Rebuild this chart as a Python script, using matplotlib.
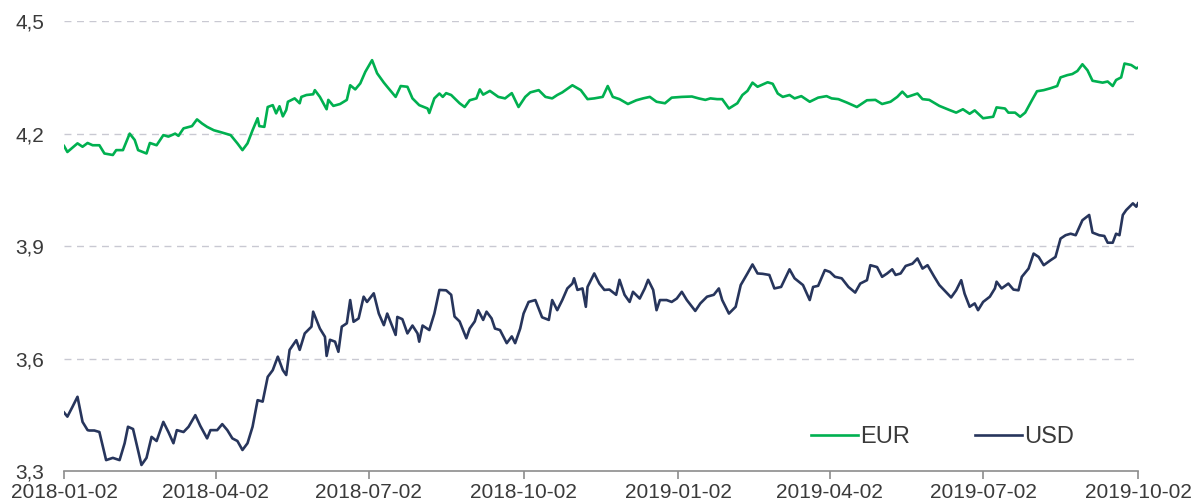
import matplotlib
matplotlib.use('Agg')
import matplotlib.pyplot as plt
import matplotlib.ticker as mticker
import matplotlib.dates as mdates
import numpy as np
import pandas as pd

start = pd.Timestamp('2018-01-02')

# days since 2018-01-02 and rate
eur_days = [0, 2, 8, 11, 14, 17, 21, 24, 29, 31, 35, 39, 42, 44, 49, 51, 55, 59, 62, 66,
            68, 71, 76, 79, 82, 85, 89, 93, 99, 103, 106, 109, 112, 115, 116, 119, 121, 124,
            126, 128, 130, 132, 133, 137, 140, 141, 144, 148, 149, 152, 156, 157, 160, 164,
            168, 170, 173, 176, 179, 183, 186, 190, 192, 197, 200, 204, 207, 211, 216, 217,
            220, 223, 225, 227, 230, 235, 238, 241, 245, 247, 249, 253, 258, 262, 266, 270,
            274, 277, 282, 286, 290, 293, 296, 302, 307, 311, 315, 320, 323, 326, 330, 335,
            340, 344, 348, 352, 357, 361, 367, 373, 377, 381, 384, 388, 391, 395, 400, 403,
            406, 409, 412, 418, 421, 424, 427, 431, 434, 438, 443, 448, 453, 456, 460, 465,
            471, 477, 482, 486, 491, 495, 498, 501, 507, 510, 514, 520, 526, 530, 534, 538,
            541, 546, 552, 554, 559, 561, 565, 568, 571, 575, 578, 582, 586, 590, 592, 596,
            599, 602, 605, 608, 611, 617, 620, 623, 625, 628, 630, 634, 637, 638]
eur = [4.167, 4.151, 4.174, 4.165, 4.175, 4.169, 4.169, 4.147, 4.143, 4.156, 4.156, 4.200,
       4.183, 4.156, 4.147, 4.175, 4.169, 4.196, 4.192, 4.200, 4.194, 4.214, 4.220, 4.238,
       4.227, 4.218, 4.209, 4.204, 4.196, 4.174, 4.156, 4.174, 4.209, 4.241, 4.220, 4.218,
       4.271, 4.276, 4.254, 4.273, 4.246, 4.263, 4.285, 4.294, 4.281, 4.298, 4.303, 4.305,
       4.316, 4.298, 4.265, 4.290, 4.274, 4.279, 4.290, 4.329, 4.318, 4.334, 4.365, 4.396,
       4.361, 4.336, 4.325, 4.298, 4.327, 4.325, 4.294, 4.276, 4.267, 4.255, 4.294, 4.307,
       4.298, 4.308, 4.303, 4.281, 4.271, 4.289, 4.294, 4.318, 4.304, 4.314, 4.298, 4.294,
       4.308, 4.271, 4.298, 4.310, 4.316, 4.298, 4.294, 4.303, 4.310, 4.329, 4.316, 4.292,
       4.294, 4.298, 4.327, 4.298, 4.292, 4.279, 4.289, 4.294, 4.298, 4.285, 4.281, 4.296,
       4.298, 4.299, 4.294, 4.290, 4.294, 4.292, 4.292, 4.267, 4.281, 4.303, 4.314, 4.336,
       4.325, 4.337, 4.333, 4.307, 4.298, 4.303, 4.294, 4.300, 4.285, 4.296, 4.300, 4.294,
       4.292, 4.283, 4.271, 4.289, 4.290, 4.279, 4.285, 4.298, 4.312, 4.298, 4.307, 4.292,
       4.290, 4.274, 4.263, 4.256, 4.265, 4.253, 4.262, 4.241, 4.245, 4.270, 4.267, 4.256,
       4.256, 4.245, 4.256, 4.289, 4.313, 4.316, 4.321, 4.327, 4.350, 4.356, 4.359, 4.367,
       4.385, 4.369, 4.341, 4.336, 4.339, 4.327, 4.343, 4.350, 4.387, 4.383, 4.374, 4.376]

usd_days = [0, 2, 5, 8, 11, 14, 15, 18, 21, 25, 29, 33, 36, 38, 41, 43, 46, 49, 52, 55,
            59, 62, 65, 67, 71, 74, 78, 81, 85, 87, 91, 94, 97, 100, 103, 106, 109, 112, 115,
            118, 121, 124, 127, 130, 132, 134, 138, 140, 143, 147, 148, 152, 155, 156, 158,
            161, 163, 165, 168, 170, 172, 175, 178, 180, 184, 187, 190, 192, 197, 198, 201,
            204, 207, 210, 211, 213, 217, 220, 223, 227, 230, 232, 235, 239, 241, 244, 246,
            249, 251, 254, 256, 259, 263, 266, 268, 271, 273, 276, 280, 284, 288, 290, 293,
            296, 299, 302, 303, 305, 308, 310, 311, 315, 318, 321, 324, 328, 330, 333, 336,
            338, 342, 345, 347, 350, 352, 354, 358, 361, 364, 367, 370, 375, 378, 382, 386,
            389, 391, 395, 399, 402, 406, 409, 412, 415, 419, 422, 426, 431, 434, 439, 443,
            445, 448, 452, 455, 458, 462, 466, 470, 473, 477, 479, 483, 486, 489, 492, 494,
            497, 500, 504, 507, 510, 513, 517, 520, 523, 527, 530, 533, 535, 538, 541, 543,
            546, 550, 553, 554, 557, 561, 564, 567, 569, 573, 576, 579, 582, 586, 589, 592,
            595, 598, 601, 605, 609, 611, 615, 618, 620, 623, 625, 627, 629, 631, 633, 635,
            637, 638]
usd = [3.456, 3.445, 3.471, 3.498, 3.431, 3.409, 3.408, 3.408, 3.404, 3.329, 3.335, 3.329,
       3.374, 3.418, 3.412, 3.374, 3.316, 3.335, 3.391, 3.380, 3.431, 3.404, 3.374, 3.409,
       3.404, 3.418, 3.449, 3.420, 3.387, 3.409, 3.409, 3.425, 3.409, 3.387, 3.380, 3.356,
       3.374, 3.418, 3.489, 3.485, 3.551, 3.569, 3.605, 3.569, 3.556, 3.623, 3.649, 3.623,
       3.667, 3.685, 3.725, 3.680, 3.658, 3.607, 3.650, 3.645, 3.618, 3.685, 3.694, 3.756,
       3.698, 3.707, 3.765, 3.751, 3.774, 3.720, 3.689, 3.720, 3.663, 3.711, 3.705, 3.667,
       3.688, 3.667, 3.645, 3.688, 3.676, 3.720, 3.783, 3.782, 3.770, 3.712, 3.699, 3.654,
       3.680, 3.699, 3.729, 3.703, 3.725, 3.707, 3.680, 3.676, 3.641, 3.659, 3.641, 3.680,
       3.720, 3.751, 3.756, 3.710, 3.703, 3.756, 3.729, 3.756, 3.787, 3.800, 3.814, 3.783,
       3.787, 3.738, 3.791, 3.827, 3.800, 3.783, 3.784, 3.770, 3.810, 3.770, 3.751, 3.778,
       3.760, 3.787, 3.810, 3.783, 3.729, 3.756, 3.756, 3.751, 3.760, 3.778, 3.756, 3.727,
       3.747, 3.765, 3.770, 3.787, 3.756, 3.720, 3.738, 3.796, 3.827, 3.851, 3.827, 3.826,
       3.823, 3.787, 3.791, 3.838, 3.814, 3.796, 3.756, 3.791, 3.794, 3.836, 3.831, 3.818,
       3.814, 3.791, 3.776, 3.800, 3.809, 3.849, 3.844, 3.818, 3.827, 3.838, 3.823, 3.827,
       3.847, 3.853, 3.867, 3.840, 3.849, 3.818, 3.796, 3.782, 3.763, 3.782, 3.809, 3.773,
       3.738, 3.747, 3.729, 3.751, 3.765, 3.787, 3.805, 3.787, 3.800, 3.784, 3.782, 3.818,
       3.840, 3.880, 3.871, 3.849, 3.862, 3.871, 3.920, 3.929, 3.933, 3.929, 3.969, 3.983,
       3.936, 3.929, 3.927, 3.909, 3.909, 3.933, 3.929, 3.983, 3.996, 4.005, 4.014, 4.005,
       4.014]

tick_dates = ['2018-01-02', '2018-04-02', '2018-07-02', '2018-10-02',
              '2019-01-02', '2019-04-02', '2019-07-02', '2019-10-02']
y_ticks = [3.3, 3.6, 3.9, 4.2, 4.5]

eur_dates = start + pd.to_timedelta(eur_days, unit='D')
usd_dates = start + pd.to_timedelta(usd_days, unit='D')

plt.rcParams['font.family'] = ['Liberation Sans', 'DejaVu Sans']

fig = plt.figure(figsize=(11.99, 5.04), dpi=100)
ax = fig.add_axes([0.0534, 0.0655, 0.8957, 0.8925])

ax.plot(eur_dates, eur, color='#00b050', lw=1.9, label='EUR')
ax.plot(usd_dates, usd, color='#27355c', lw=1.9, label='USD')

ax.set_xlim(pd.Timestamp(tick_dates[0]), pd.Timestamp(tick_dates[-1]))
ax.set_ylim(3.3, 4.5)
ax.set_xticks(pd.to_datetime(tick_dates))
ax.xaxis.set_major_formatter(mdates.DateFormatter('%Y-%m-%d'))
ax.set_yticks(y_ticks)
ax.yaxis.set_major_formatter(mticker.FuncFormatter(lambda v, p: f'{v:.1f}'.replace('.', ',')))

for v in y_ticks[1:]:
    ax.axhline(v, color='#c9c9d2', lw=1, dashes=(5, 4), zorder=0)

for s in ['top', 'right', 'left']:
    ax.spines[s].set_visible(False)
ax.spines['bottom'].set_color('#8c8c8c')
ax.spines['bottom'].set_linewidth(1.2)
ax.tick_params(axis='x', colors='#8c8c8c', length=6, width=1.2, labelsize=15,
               labelcolor='#3a3a3a', pad=3)
ax.tick_params(axis='y', length=0, labelsize=15, labelcolor='#3a3a3a', pad=14)

ax.legend(loc='center', bbox_to_anchor=(0.818, 0.076), ncol=2, frameon=False,
          fontsize=17, handlelength=2.0, handletextpad=0.1, columnspacing=2.75,
          labelcolor='#3a3a3a')

fig.savefig('out.png', dpi=100)
